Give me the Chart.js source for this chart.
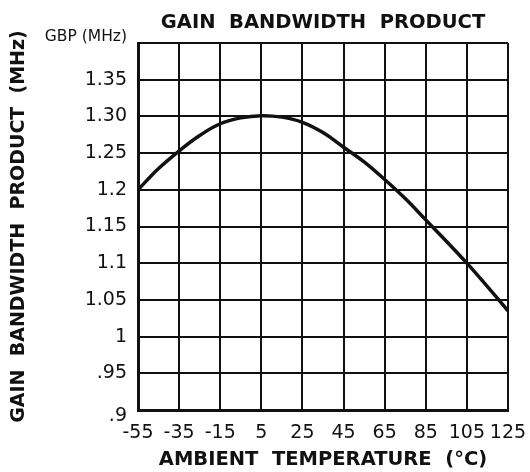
<!DOCTYPE html>
<html>
<head>
<meta charset="utf-8">
<script src="https://cdn.jsdelivr.net/npm/chart.js@4"></script>
<style>
  html, body { margin: 0; padding: 0; background: #fff; }
  #wrap { width: 530px; height: 472px; }
</style>
</head>
<body>
<div id="wrap"><canvas id="gbp"></canvas></div>
<script>
// temperatura ambiente (°C) y GBP (MHz)
const temps = [-55, -45, -35, -25, -15, -5, 5, 15, 25, 35, 45, 55, 65, 75, 85, 95, 105, 115, 125];
const gbp   = [1.200, 1.229, 1.253, 1.274, 1.290, 1.298, 1.301, 1.299, 1.292, 1.278, 1.258, 1.238, 1.214, 1.188, 1.159, 1.130, 1.100, 1.068, 1.035];

const xTickValues = [-55, -35, -15, 5, 25, 45, 65, 85, 105, 125];
const xTickLabels = ['-55', '-35', '-15', '5', '25', '45', '65', '85', '105', '125'];
const yTickValues = [0.9, 0.95, 1.0, 1.05, 1.1, 1.15, 1.2, 1.25, 1.3, 1.35, 1.4];
const yTickLabels = [['', '.9'], '.95', '1', '1.05', '1.1', '1.15', '1.2', '1.25', '1.30', '1.35', ['GBP (MHz)', '']];

const ink = '#111';
const fam = '"DejaVu Sans", sans-serif';

const findIdx = (arr, v) => arr.findIndex(t => Math.abs(t - v) < 1e-6);
const same = (a, b) => Math.abs(a - b) < 1e-6;

const ctx = document.getElementById('gbp').getContext('2d');
new Chart(ctx, {
  type: 'line',
  data: {
    datasets: [{
      data: temps.map((t, i) => ({ x: t, y: gbp[i] })),
      borderColor: ink,
      borderWidth: 3.5,
      pointRadius: 0,
      tension: 0.4,
      fill: false
    }]
  },
  options: {
    responsive: true,
    maintainAspectRatio: false,
    animation: false,
    layout: { padding: { left: 0, right: 22, top: 0, bottom: 0 } },
    plugins: {
      legend: { display: false },
      tooltip: { enabled: false }
    },
    scales: {
      // eje superior solo para centrar el título sobre el área del gráfico
      top: {
        type: 'linear',
        position: 'top',
        min: -55,
        max: 125,
        ticks: { display: false },
        grid: { display: false, drawTicks: false },
        border: { display: false },
        afterFit: s => { s.height = 43; s.paddingLeft = 0; s.paddingRight = 0; },
        title: {
          display: true,
          text: 'GAIN  BANDWIDTH  PRODUCT',
          color: ink,
          font: { family: fam, size: 19.5, weight: 'bold', lineHeight: 1.2 },
          padding: { top: 11, bottom: 9 }
        }
      },
      x: {
        type: 'linear',
        min: -55,
        max: 125,
        afterBuildTicks: s => { s.ticks = xTickValues.map(v => ({ value: v })); },
        afterFit: s => { s.height = 62; s.paddingLeft = 0; s.paddingRight = 0; },
        ticks: {
          color: ink,
          padding: 12,
          maxRotation: 0,
          autoSkip: false,
          font: { family: fam, size: 19 },
          callback: v => { const i = findIdx(xTickValues, v); return i < 0 ? '' : xTickLabels[i]; }
        },
        grid: { color: ink, lineWidth: 2, drawTicks: false },
        border: { color: ink, width: 3 },
        title: {
          display: true,
          text: 'AMBIENT  TEMPERATURE  (°C)',
          color: ink,
          font: { family: fam, size: 19.5, weight: 'bold', lineHeight: 1 },
          padding: { top: 0, bottom: 2 }
        }
      },
      y: {
        min: 0.9,
        max: 1.4,
        afterBuildTicks: s => { s.ticks = yTickValues.map(v => ({ value: v })); },
        afterFit: s => { s.width = 138; },
        ticks: {
          color: ink,
          padding: 11,
          autoSkip: false,
          font: c => {
            const v = c.tick ? c.tick.value : 0;
            if (same(v, 1.4)) return { family: fam, size: 15.5, lineHeight: 0.8 };
            if (same(v, 0.9)) return { family: fam, size: 19, lineHeight: 0.6 };
            return { family: fam, size: 19 };
          },
          callback: v => { const i = findIdx(yTickValues, v); return i < 0 ? '' : yTickLabels[i]; }
        },
        grid: { color: ink, lineWidth: 2, drawTicks: false },
        border: { color: ink, width: 3 },
        title: {
          display: true,
          text: 'GAIN  BANDWIDTH  PRODUCT  (MHz)',
          color: ink,
          font: { family: fam, size: 19, weight: 'bold', lineHeight: 1 },
          padding: { top: 10, bottom: 0 }
        }
      }
    }
  }
});
</script>
</body>
</html>
